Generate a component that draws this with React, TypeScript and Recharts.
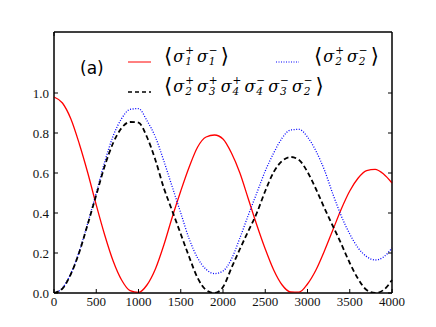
import { LineChart, Line, XAxis, YAxis, Legend, ReferenceArea } from 'recharts'

const TIME = [
  0, 100, 200, 300, 400, 500, 600, 700, 800, 900, 1000, 1100, 1200, 1300, 1400, 1500, 1600, 1700, 1800, 1900, 2000,
  2100, 2200, 2300, 2400, 2500, 2600, 2700, 2800, 2900, 3000, 3100, 3200, 3300, 3400, 3500, 3600, 3700, 3800, 3900, 4000,
]
const SITE1 = [
  0.98, 0.95, 0.87, 0.745, 0.6, 0.44, 0.29, 0.16, 0.065, 0.012, 0.003, 0.04, 0.12, 0.24, 0.38, 0.51, 0.63, 0.73, 0.78,
  0.79, 0.77, 0.7, 0.6, 0.47, 0.34, 0.22, 0.115, 0.04, 0.005, 0.004, 0.045, 0.115, 0.21, 0.315, 0.42, 0.51, 0.575, 0.612,
  0.618, 0.595, 0.55,
]
const SITE2 = [
  0, 0.025, 0.098, 0.21, 0.35, 0.5, 0.655, 0.785, 0.872, 0.918, 0.922, 0.862, 0.78, 0.66, 0.53, 0.4, 0.27, 0.175, 0.118,
  0.097, 0.11, 0.17, 0.275, 0.39, 0.5, 0.61, 0.7, 0.775, 0.815, 0.818, 0.78, 0.71, 0.615, 0.495, 0.385, 0.295, 0.225,
  0.182, 0.165, 0.18, 0.225,
]
const CLUSTER = [
  0, 0.022, 0.095, 0.205, 0.345, 0.49, 0.635, 0.75, 0.825, 0.855, 0.852, 0.78, 0.665, 0.525, 0.41, 0.295, 0.18, 0.075,
  0.015, 0, 0.03, 0.125, 0.22, 0.31, 0.4, 0.51, 0.605, 0.66, 0.68, 0.665, 0.605, 0.52, 0.425, 0.335, 0.245, 0.15, 0.07,
  0.015, 0, 0.015, 0.065,
]
const X_TICKS = [0, 500, 1000, 1500, 2000, 2500, 3000, 3500, 4000]
const Y_TICKS = [0, 0.2, 0.4, 0.6, 0.8, 1.0]

const data = TIME.map((t, i) => ({ t, s1: SITE1[i], s2: SITE2[i], c: CLUSTER[i] }))

const tickFont = { fontFamily: '"Liberation Serif", serif', fontSize: 13, fill: '#111' }

const BottomTick = ({ x, y, payload }: any) => (
  <g>
    <line x1={x} x2={x} y1={y} y2={y - 4} stroke="#000" />
    <text x={x} y={y + 13} textAnchor="middle" {...tickFont}>{payload.value}</text>
  </g>
)
const TopTick = ({ x, y }: any) => <line x1={x} x2={x} y1={y} y2={y + 4} stroke="#000" />
const LeftTick = ({ x, y, payload }: any) => (
  <g>
    <line x1={x} x2={x + 4} y1={y} y2={y} stroke="#000" />
    <text x={x - 5} y={y + 4.5} textAnchor="end" {...tickFont}>{Number(payload.value).toFixed(1)}</text>
  </g>
)
const RightTick = ({ x, y }: any) => <line x1={x} x2={x - 4} y1={y} y2={y} stroke="#000" />

const Sig = ({ s, n }: { s: string; n: string }) => (
  <span style={{ display: 'inline-flex', alignItems: 'center' }}>
    <i>σ</i>
    <span style={{ display: 'inline-flex', flexDirection: 'column', fontSize: 10.5, lineHeight: '11px', marginLeft: 1, marginRight: 3 }}>
      <span>{s}</span>
      <i>{n}</i>
    </span>
  </span>
)

const Bra = ({ ops }: { ops: [string, string][] }) => (
  <span style={{ display: 'inline-flex', alignItems: 'center', fontFamily: '"DejaVu Serif", serif', fontSize: 16, whiteSpace: 'nowrap' }}>
    <span style={{ fontSize: 21, marginRight: 1 }}>⟨</span>
    {ops.map(([s, n], i) => <Sig key={i} s={s} n={n} />)}
    <span style={{ fontSize: 21 }}>⟩</span>
  </span>
)

const LEGEND_OPS: [string, string][][] = [
  [['+', '1'], ['−', '1']],
  [['+', '2'], ['−', '2']],
  [['+', '2'], ['+', '3'], ['+', '4'], ['−', '4'], ['−', '3'], ['−', '2']],
]

const Sample = ({ color, dash, w }: { color: string; dash?: string; w: number }) => (
  <svg width={23} height={6} style={{ position: 'absolute' }}>
    <line x1={0} x2={23} y1={3} y2={3} stroke={color} strokeWidth={w} strokeDasharray={dash} />
  </svg>
)

const LegendBox = () => (
  <div style={{ position: 'relative', width: 300, height: 80 }}>
    <div style={{ position: 'absolute', left: -48, top: 13, fontFamily: '"DejaVu Sans", sans-serif', fontSize: 17 }}>(a)</div>
    <div style={{ position: 'absolute', left: 0, top: 14 }}><Sample color="#ff0000" w={1} /></div>
    <div style={{ position: 'absolute', left: 36, top: -1 }}><Bra ops={LEGEND_OPS[0]} /></div>
    <div style={{ position: 'absolute', left: 148, top: 14 }}><Sample color="#0000ff" dash="1 1.5" w={1} /></div>
    <div style={{ position: 'absolute', left: 186, top: -1 }}><Bra ops={LEGEND_OPS[1]} /></div>
    <div style={{ position: 'absolute', left: 0, top: 44 }}><Sample color="#000" dash="4 3" w={1.5} /></div>
    <div style={{ position: 'absolute', left: 36, top: 29 }}><Bra ops={LEGEND_OPS[2]} /></div>
  </div>
)

export default function App() {
  return (
    <div style={{ position: 'absolute', left: 0, top: 0, background: '#fff' }}>
      <LineChart width={436} height={327} data={data} margin={{ top: 0, right: 0, left: 0, bottom: 14 }}>
        <XAxis dataKey="t" type="number" domain={[0, 4000]} ticks={X_TICKS} tick={BottomTick} tickSize={0} tickMargin={0}
          axisLine={{ stroke: '#000' }} height={20} interval={0} />
        <XAxis xAxisId="top" orientation="top" type="number" domain={[0, 4000]} ticks={X_TICKS} tick={TopTick}
          tickSize={0} tickMargin={0} axisLine={{ stroke: '#000' }} height={32} interval={0} />
        <YAxis type="number" domain={[0, 1.305]} ticks={Y_TICKS} tick={LeftTick} tickSize={0} tickMargin={0}
          axisLine={{ stroke: '#000' }} width={54} interval={0} allowDataOverflow />
        <YAxis yAxisId="right" orientation="right" type="number" domain={[0, 1.305]} ticks={Y_TICKS} tick={RightTick}
          tickSize={0} tickMargin={0} axisLine={{ stroke: '#000' }} width={44} interval={0} allowDataOverflow />
        <ReferenceArea x1={0} x2={4000} y1={0} y2={1.305} fill="none" stroke="#000" strokeWidth={1} ifOverflow="extendDomain" />
        <Line dataKey="s1" type="monotone" stroke="#ff0000" strokeWidth={1.3} dot={false} isAnimationActive={false} />
        <Line dataKey="s2" type="monotone" stroke="#0000ff" strokeWidth={1.3} strokeDasharray="1 1.6" dot={false} isAnimationActive={false} />
        <Line dataKey="c" type="monotone" stroke="#000" strokeWidth={1.8} strokeDasharray="5 3" dot={false} isAnimationActive={false} />
        <Legend layout="horizontal" verticalAlign="middle" align="center" content={LegendBox}
          wrapperStyle={{ position: 'absolute', left: 128, top: 45, width: 300, height: 80 }} />
      </LineChart>
    </div>
  )
}
